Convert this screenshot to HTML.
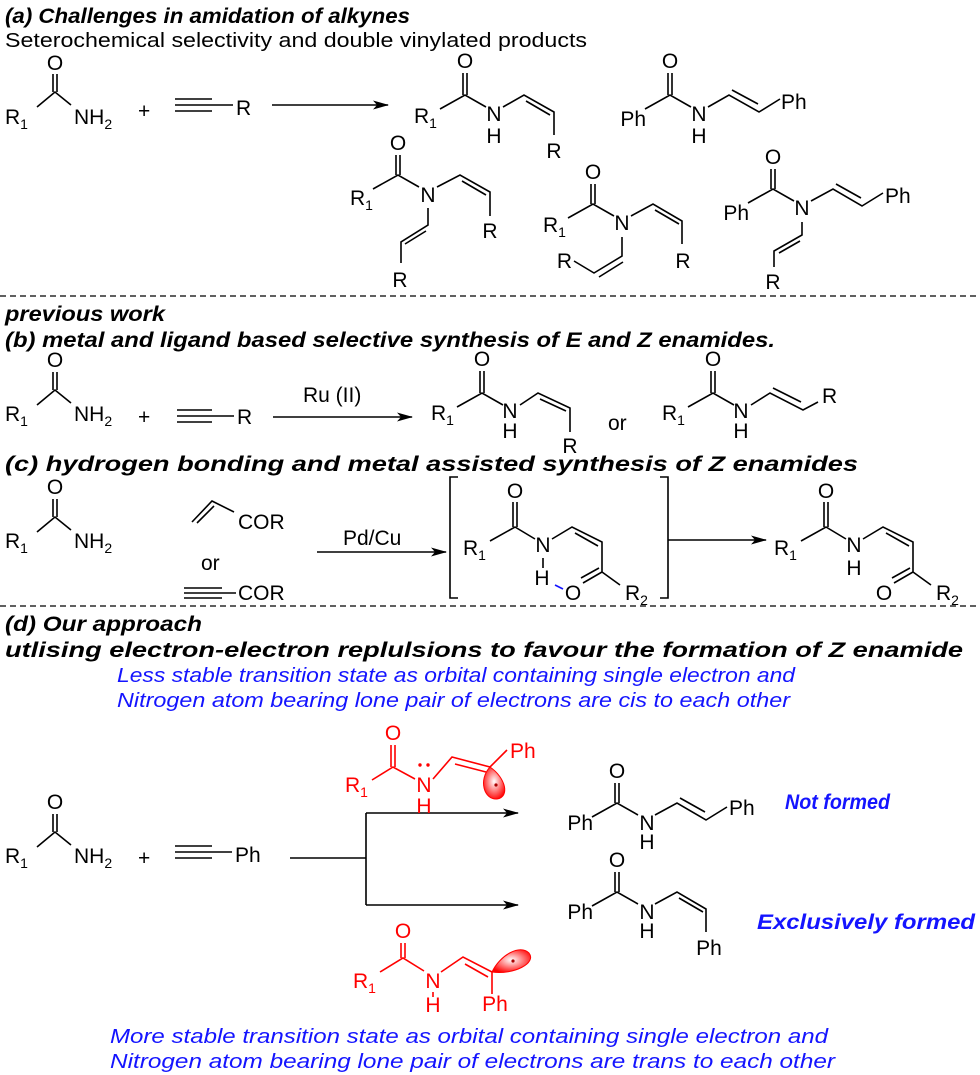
<!DOCTYPE html>
<html><head><meta charset="utf-8"><style>
html,body{margin:0;padding:0;background:#fff}
svg{display:block}
text{font-family:"Liberation Sans",Arial,sans-serif;font-size:21px;fill:#000}
.b{font-weight:bold;font-style:italic;font-size:21px}
.bl{fill:#1414ff;font-style:italic;font-size:20px}
.r text{fill:#f00}
.m{text-anchor:middle}
.e{text-anchor:end}
path,line{stroke:#000;stroke-width:1.6;fill:none}
.r path{stroke:#f00}
</style></head><body>
<svg width="980" height="1075" viewBox="0 0 980 1075" xmlns="http://www.w3.org/2000/svg">
<defs>
<radialGradient id="og" cx="0.5" cy="0.45" r="0.6"><stop offset="0" stop-color="#fff"/><stop offset="1" stop-color="#f00"/></radialGradient>
<marker id="ar" markerWidth="16" markerHeight="10" refX="15" refY="5" orient="auto" markerUnits="userSpaceOnUse"><path d="M0,0.5L16,5L0,9.5L4,5Z" style="fill:#000;stroke:none"/></marker>
</defs>

<text class="b" x="5" y="23" textLength="405" lengthAdjust="spacingAndGlyphs">(a) Challenges in amidation of alkynes</text>
<text x="5" y="47" textLength="582" lengthAdjust="spacingAndGlyphs" style="font-size:20px">Seterochemical selectivity and double vinylated products</text>

<g transform="translate(55,92)">
<text class="m" x="0" y="-22">O</text><path d="M-2,-18V0M2,-18V0M-18,15L0,0L16,13"/>
<text x="-50" y="32">R<tspan font-size="14" dy="5">1</tspan></text>
<text x="19" y="32">NH<tspan font-size="14" dy="5">2</tspan></text>
</g>
<text x="138" y="118">+</text>
<path d="M175,99H212M175,105H212M175,111H212M212,105H233"/>
<text x="236" y="115">R</text>
<path d="M272,105H388" marker-end="url(#ar)"/>

<g transform="translate(465,95)">
<text class="m" x="0" y="-27">O</text><path d="M-2,-22V0M2,-22V0M-25,14L0,0L21,12M38,12L59,0L89,17V40M61,6L85,20"/>
<text x="-51" y="28">R<tspan font-size="14" dy="5">1</tspan></text>
<text class="m" x="29" y="26">N</text><text class="m" x="29" y="48">H</text>
<text class="m" x="89" y="63">R</text>
</g>
<g transform="translate(670,95)">
<text class="m" x="0" y="-27">O</text><path d="M-2,-22V0M2,-22V0M-25,14L0,0L21,12M38,12L59,0L89,17L110,4M62,-5L88,9"/>
<text class="e" x="-24" y="31">Ph</text>
<text class="m" x="29" y="26">N</text><text class="m" x="29" y="48">H</text>
<text x="111" y="14">Ph</text>
</g>

<g transform="translate(398,175)">
<text class="m" x="0" y="-25">O</text><path d="M-2,-20V0M2,-20V0M-25,14L0,0L21,12M39,12L62,0L92,17V41M64,6L88,20M30,33V50L3,67V88M28,56L7,69"/>
<text x="-48" y="30">R<tspan font-size="14" dy="5">1</tspan></text>
<text class="m" x="30" y="27">N</text>
<text class="m" x="92" y="63">R</text><text class="m" x="2" y="112">R</text>
</g>
<g transform="translate(593,204)">
<text class="m" x="0" y="-25">O</text><path d="M-2,-20V0M2,-20V0M-25,14L0,0L21,12M38,12L60,0L89,17V40M62,6L86,20M29,33V52L1,69L-19,57M30,58L6,73"/>
<text x="-50" y="28">R<tspan font-size="14" dy="5">1</tspan></text>
<text class="m" x="29" y="26">N</text>
<text class="m" x="90" y="64">R</text><text class="e" x="-21" y="64">R</text>
</g>
<g transform="translate(773,189)">
<text class="m" x="0" y="-25">O</text><path d="M-2,-20V0M2,-20V0M-25,14L0,0L21,12M38,12L60,0L89,17L110,4M63,-5L88,9M29,33V46L1,62V78M27,52L6,64"/>
<text class="e" x="-24" y="31">Ph</text>
<text class="m" x="29" y="26">N</text>
<text x="112" y="14">Ph</text><text class="m" x="0" y="100">R</text>
</g>

<path d="M0,296H980" stroke-dasharray="6,4" style="stroke-width:1.2"/>

<text class="b" x="5" y="321" textLength="160" lengthAdjust="spacingAndGlyphs">previous work</text>
<text class="b" x="5" y="347" textLength="770" lengthAdjust="spacingAndGlyphs">(b) metal and ligand based selective synthesis of E and Z enamides.</text>

<g transform="translate(55,390)">
<text class="m" x="0" y="-23">O</text><path d="M-2,-18V0M2,-18V0M-18,15L0,0L16,13"/>
<text x="-50" y="31">R<tspan font-size="14" dy="5">1</tspan></text>
<text x="19" y="31">NH<tspan font-size="14" dy="5">2</tspan></text>
</g>
<text x="138" y="424">+</text>
<path d="M177,410H212M177,416H212M177,422H212M212,416H234"/>
<text x="237" y="424">R</text>
<text x="303" y="402">Ru (II)</text>
<path d="M273,417H412" marker-end="url(#ar)"/>
<g transform="translate(482,393)">
<text class="m" x="0" y="-27">O</text><path d="M-2,-22V0M2,-22V0M-25,14L0,0L21,12M38,12L56,0L88,15V39M58,6L84,18"/>
<text x="-51" y="27">R<tspan font-size="14" dy="5">1</tspan></text>
<text class="m" x="28" y="25">N</text><text class="m" x="28" y="45">H</text>
<text class="m" x="88" y="60">R</text>
</g>
<text x="608" y="430">or</text>
<g transform="translate(713,393)">
<text class="m" x="0" y="-27">O</text><path d="M-2,-22V0M2,-22V0M-25,14L0,0L21,12M38,12L57,0L90,17L105,9M60,-5L88,9"/>
<text x="-51" y="27">R<tspan font-size="14" dy="5">1</tspan></text>
<text class="m" x="28" y="25">N</text><text class="m" x="28" y="45">H</text>
<text x="109" y="10">R</text>
</g>

<text class="b" x="5" y="471" textLength="853" lengthAdjust="spacingAndGlyphs">(c) hydrogen bonding and metal  assisted synthesis of Z enamides</text>

<g transform="translate(55,517)">
<text class="m" x="0" y="-23">O</text><path d="M-2,-18V0M2,-18V0M-18,15L0,0L16,13"/>
<text x="-50" y="31">R<tspan font-size="14" dy="5">1</tspan></text>
<text x="19" y="31">NH<tspan font-size="14" dy="5">2</tspan></text>
</g>
<path d="M192,522L212,501L234,512M197,523L214,506"/>
<text x="238" y="529">COR</text>
<text x="201" y="570">or</text>
<path d="M184,588H222M184,593H222M184,598H222M222,593H236"/>
<text x="238" y="600">COR</text>
<text x="343" y="545">Pd/Cu</text>
<path d="M317,552H446" marker-end="url(#ar)"/>
<path d="M458,477H450V598H458M660,477H668V598H660"/>
<path d="M668,540H766" marker-end="url(#ar)"/>
<g transform="translate(515,527)">
<text class="m" x="0" y="-29">O</text><path d="M-2,-25V0M2,-25V0M-25,14L0,0L20,12M37,12L57,0L87,15V45L68,56M84,41L66,51M87,45L105,58M28,31V41M60,6L83,19"/>
<text x="-52" y="28">R<tspan font-size="14" dy="5">1</tspan></text>
<text class="m" x="28" y="25">N</text><text class="m" x="27" y="58">H</text>
<path d="M40,58L48,62" style="stroke:#1414ff"/>
<text class="m" x="58" y="73">O</text>
<text x="110" y="73">R<tspan font-size="14" dy="5">2</tspan></text>
</g>
<g transform="translate(826,527)">
<text class="m" x="0" y="-29">O</text><path d="M-2,-25V0M2,-25V0M-25,14L0,0L20,12M37,12L57,0L87,15V45L68,56M84,41L66,51M87,45L105,58M60,6L83,19"/>
<text x="-52" y="28">R<tspan font-size="14" dy="5">1</tspan></text>
<text class="m" x="28" y="25">N</text><text class="m" x="28" y="48">H</text>
<text class="m" x="58" y="73">O</text>
<text x="110" y="73">R<tspan font-size="14" dy="5">2</tspan></text>
</g>

<path d="M0,606H980" stroke-dasharray="6,4" style="stroke-width:1.2"/>

<text class="b" x="5" y="631" textLength="197" lengthAdjust="spacingAndGlyphs">(d) Our approach</text>
<text class="b" x="5" y="657" textLength="958" lengthAdjust="spacingAndGlyphs">utlising electron-electron replulsions to favour the formation of Z enamide</text>
<text class="bl" x="117" y="682" textLength="678" lengthAdjust="spacingAndGlyphs">Less stable transition state as orbital containing single electron and</text>
<text class="bl" x="117" y="707" textLength="673" lengthAdjust="spacingAndGlyphs">Nitrogen atom bearing lone pair of electrons are cis to each other</text>

<g transform="translate(55,832)">
<text class="m" x="0" y="-23">O</text><path d="M-2,-18V0M2,-18V0M-18,15L0,0L16,13"/>
<text x="-50" y="31">R<tspan font-size="14" dy="5">1</tspan></text>
<text x="19" y="31">NH<tspan font-size="14" dy="5">2</tspan></text>
</g>
<text x="138" y="865">+</text>
<path d="M175,846H212M175,852H212M175,858H212M212,852H232"/>
<text x="235" y="862">Ph</text>
<path d="M290,858H366M366,813V905"/>
<path d="M366,813H518" marker-end="url(#ar)"/>
<path d="M366,905H518" marker-end="url(#ar)"/>

<g class="r">
<text class="m" x="393" y="740">O</text>
<path d="M391,745V767M395,745V767M372,780L393,767L415,779M433,779L452,757L490,767L507,750M455,764L486,772"/>
<text x="345" y="792">R<tspan font-size="14" dy="5">1</tspan></text>
<text class="m" x="424" y="792">N</text>
<text class="m" x="424" y="813">H</text>
<circle cx="420" cy="765" r="1.7" fill="#f00"/><circle cx="428" cy="765" r="1.7" fill="#f00"/>
<text x="510" y="758">Ph</text>
<path d="M490,767C478,780 484,800 497,799C510,797 506,778 490,767Z" style="fill:url(#og);stroke:#f00;stroke-width:1"/>
<circle cx="496" cy="785" r="1.6" fill="#a00"/>
</g>
<g class="r">
<text class="m" x="403" y="938">O</text>
<path d="M401,943V958M405,943V958M380,972L403,958L424,971M441,972L463,957L492,972V994M465,964L488,977M433,992V997"/>
<text x="353" y="988">R<tspan font-size="14" dy="5">1</tspan></text>
<text class="m" x="433" y="988">N</text>
<text class="m" x="433" y="1012">H</text>
<text class="m" x="495" y="1011">Ph</text>
<path d="M492,972C500,955 520,944 529,953C537,963 514,975 492,972Z" style="fill:url(#og);stroke:#f00;stroke-width:1"/>
<circle cx="513" cy="961" r="1.6" fill="#a00"/>
</g>

<g transform="translate(617,803)">
<text class="m" x="0" y="-25">O</text><path d="M-2,-20V0M2,-20V0M-25,14L0,0L21,12M38,12L60,0L89,17L110,4M63,-5L88,9"/>
<text class="e" x="-24" y="27">Ph</text>
<text class="m" x="30" y="27">N</text><text class="m" x="30" y="46">H</text>
<text x="112" y="12">Ph</text>
</g>
<text class="b" x="785" y="809" style="fill:#1414ff" textLength="105" lengthAdjust="spacingAndGlyphs">Not formed</text>
<g transform="translate(617,892)">
<text class="m" x="0" y="-25">O</text><path d="M-2,-20V0M2,-20V0M-25,14L0,0L21,12M38,12L60,0L89,17V40M62,6L86,20"/>
<text class="e" x="-24" y="27">Ph</text>
<text class="m" x="30" y="27">N</text><text class="m" x="30" y="46">H</text>
<text class="m" x="92" y="63">Ph</text>
</g>
<text class="b" x="757" y="929" style="fill:#1414ff" textLength="218" lengthAdjust="spacingAndGlyphs">Exclusively formed</text>

<text class="bl" x="110" y="1043" textLength="718" lengthAdjust="spacingAndGlyphs">More stable transition state as orbital containing single electron and</text>
<text class="bl" x="110" y="1068" textLength="725" lengthAdjust="spacingAndGlyphs">Nitrogen atom bearing lone pair of electrons are trans to each other</text>
</svg>
</body></html>
